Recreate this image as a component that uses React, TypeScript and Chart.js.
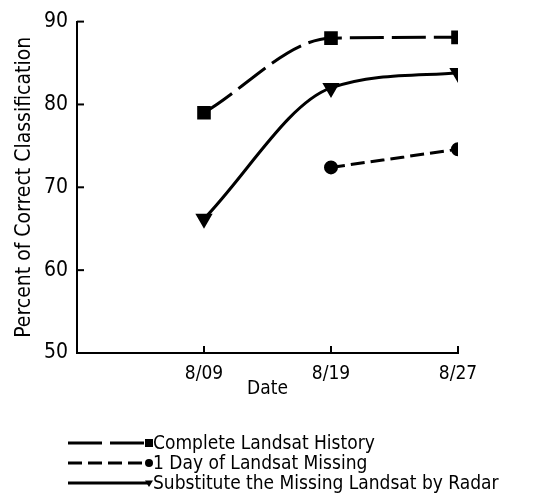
import React, { useEffect, useRef } from 'react';
import { Chart, registerables } from 'chart.js';

Chart.register(...registerables);

const dates = ['8/09', '8/19', '8/27'];
const yTickValues = [50, 60, 70, 80, 90];
const completeHistory = [79, 88, 88.1];
const oneDayMissing = [null, 72.4, 74.6];
const radarSubstitute = [66.2, 82, 83.8];
const seriesNames = [
  'Complete Landsat History',
  '1 Day of Landsat Missing',
  'Substitute the Missing Landsat by Radar',
];

const FONT = "'Liberation Sans Narrow', 'DejaVu Sans Condensed', 'Roboto Condensed', sans-serif";

const toPoints = (vals: (number | null)[]) =>
  vals.map((v, i) => ({ x: i + 1, y: v }));

function drawMarker(ctx: CanvasRenderingContext2D, style: string, cx: number, cy: number, r: number) {
  ctx.beginPath();
  if (style === 'rect') {
    ctx.rect(cx - r, cy - r, 2 * r, 2 * r);
  } else if (style === 'circle') {
    ctx.arc(cx, cy, r, 0, Math.PI * 2);
  } else {
    ctx.moveTo(cx - r, cy - r * 0.6);
    ctx.lineTo(cx + r, cy - r * 0.6);
    ctx.lineTo(cx, cy + r);
    ctx.closePath();
  }
  ctx.fill();
}

const decorPlugin = {
  id: 'decor',
  afterDraw(chart: any) {
    const { ctx, scales } = chart;
    const x = scales.x;
    const y = scales.y;
    ctx.save();
    ctx.strokeStyle = '#000';
    ctx.lineWidth = 2;
    ctx.setLineDash([]);
    dates.forEach((_, i) => {
      const px = x.getPixelForValue(i + 1);
      ctx.beginPath();
      ctx.moveTo(px, y.bottom);
      ctx.lineTo(px, y.bottom - 7);
      ctx.stroke();
    });
    yTickValues.forEach((v) => {
      const py = y.getPixelForValue(v);
      ctx.beginPath();
      ctx.moveTo(x.left, py);
      ctx.lineTo(x.left + 7, py);
      ctx.stroke();
    });
    const rowStartY = 443;
    const rowGap = 20;
    chart.data.datasets.forEach((ds: any, i: number) => {
      const cy = rowStartY + i * rowGap;
      const x0 = 68;
      const x1 = 149;
      ctx.beginPath();
      ctx.strokeStyle = '#000';
      ctx.lineWidth = ds.borderWidth;
      ctx.setLineDash(ds.borderDash || []);
      ctx.moveTo(x0, cy);
      ctx.lineTo(x1, cy);
      ctx.stroke();
      ctx.setLineDash([]);
      ctx.fillStyle = '#000';
      drawMarker(ctx, ds.pointStyle, x1, cy, 4);
      ctx.font = `19px ${FONT}`;
      ctx.textBaseline = 'middle';
      ctx.textAlign = 'left';
      ctx.fillText(ds.label, x1 + 4, cy + 1);
    });
    ctx.restore();
  },
};

export default function App() {
  const canvasRef = useRef<HTMLCanvasElement>(null);

  useEffect(() => {
    const canvas = canvasRef.current;
    if (!canvas) return;
    Chart.defaults.color = '#000';
    const chart = new Chart(canvas, {
      type: 'line',
      data: {
        datasets: [
          {
            label: seriesNames[0],
            data: toPoints(completeHistory),
            borderColor: '#000',
            backgroundColor: '#000',
            borderWidth: 3,
            borderDash: [34, 8],
            pointStyle: 'rect',
            pointRadius: 7.5,
            pointBackgroundColor: '#000',
            cubicInterpolationMode: 'monotone',
          },
          {
            label: seriesNames[1],
            data: toPoints(oneDayMissing),
            borderColor: '#000',
            backgroundColor: '#000',
            borderWidth: 3,
            borderDash: [14, 6],
            pointStyle: 'circle',
            pointRadius: 5.5,
            pointBackgroundColor: '#000',
            spanGaps: false,
            cubicInterpolationMode: 'monotone',
          },
          {
            label: seriesNames[2],
            data: toPoints(radarSubstitute),
            borderColor: '#000',
            backgroundColor: '#000',
            borderWidth: 3,
            pointStyle: 'triangle',
            pointRadius: 7,
            pointRotation: 180,
            pointBackgroundColor: '#000',
            cubicInterpolationMode: 'monotone',
          },
        ] as any,
      },
      options: {
        animation: false,
        responsive: false,
        devicePixelRatio: 1,
        layout: { padding: { left: 0, top: 18, right: 100, bottom: 0 } },
        plugins: { legend: { display: false }, tooltip: { enabled: false } },
        scales: {
          x: {
            type: 'linear',
            min: 0,
            max: 3,
            afterBuildTicks: (scale: any) => {
              scale.ticks = dates.map((_, i) => ({ value: i + 1 }));
            },
            afterFit: (scale: any) => {
              scale.height = 143;
            },
            ticks: {
              autoSkip: false,
              maxRotation: 0,
              padding: 10,
              font: { family: FONT, size: 19 },
              color: '#000',
              callback: (v: any) => dates[Number(v) - 1] ?? '',
            },
            grid: { drawOnChartArea: false, drawTicks: false },
            border: { color: '#000', width: 2 },
            title: {
              display: true,
              text: 'Date',
              color: '#000',
              font: { family: FONT, size: 19 },
              padding: { top: 0, bottom: 96 },
            },
          },
          y: {
            min: 50,
            max: 90,
            afterBuildTicks: (scale: any) => {
              scale.ticks = yTickValues.map((v) => ({ value: v }));
            },
            afterFit: (scale: any) => {
              scale.width = 77;
            },
            ticks: {
              padding: 9,
              font: { family: FONT, size: 21 },
              color: '#000',
            },
            grid: { drawOnChartArea: false, drawTicks: false },
            border: { color: '#000', width: 2 },
            title: {
              display: true,
              text: 'Percent of Correct Classification',
              color: '#000',
              font: { family: FONT, size: 21 },
              padding: { top: 12, bottom: 0 },
            },
          },
        },
      },
      plugins: [decorPlugin],
    });
    return () => chart.destroy();
  }, []);

  return (
    <div style={{ position: 'absolute', left: 0, top: 0, width: 558, height: 496, background: '#fff' }}>
      <canvas ref={canvasRef} width={558} height={496} />
    </div>
  );
}
